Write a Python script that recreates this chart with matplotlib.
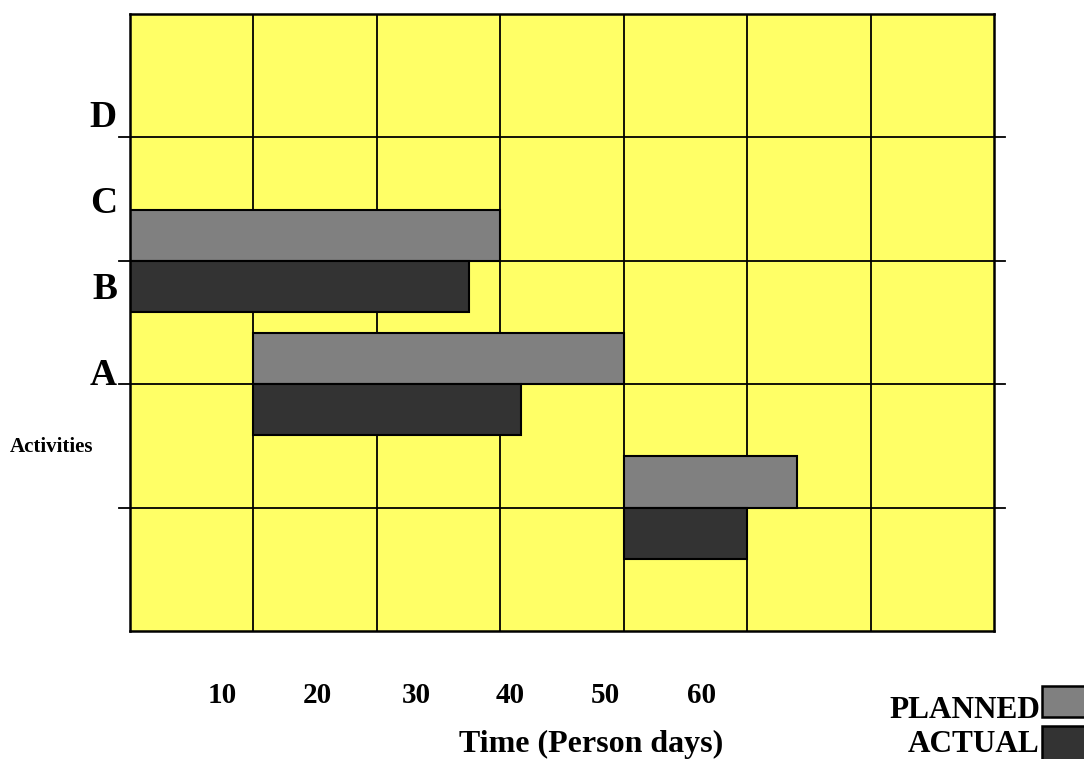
import matplotlib.pyplot as plt
from matplotlib.patches import Rectangle

# Gantt data (time in person days, grid column = 10 days)
row_lines = [3, 2, 1]               # grid line each planned/actual pair sits on
planned_start = [0, 10, 40]
planned_end = [30, 40, 54]
actual_start = [0, 10, 40]
actual_end = [27.5, 31.7, 50]

tick_pos = [7.5, 15.2, 23.2, 30.8, 38.5, 46.3]
tick_labels = ['10', '20', '30', '40', '50', '60']
row_labels = ['D', 'C', 'B', 'A']
row_label_y = [127, 213, 299, 385]   # baseline, in pixels from top

yellow = '#FFFF66'
planned_color = '#808080'
actual_color = '#333333'
bar_h = 0.415

plt.rcParams['font.family'] = 'Liberation Serif'
plt.rcParams['font.weight'] = 'bold'

W, H = 1084, 759
fig = plt.figure(figsize=(W / 100, H / 100), dpi=100)
ax = fig.add_axes([130 / W, 1 - 631 / H, 864 / W, 617 / H])
ax.set_facecolor(yellow)
ax.set_xlim(0, 70)
ax.set_ylim(0, 5)

# grid
for x in range(10, 70, 10):
    ax.axvline(x, color='black', lw=1.3, zorder=1)
for y in [1, 2, 3, 4]:
    ax.plot([-0.9, 0.9 + 70], [y, y], color='black', lw=1.3, clip_on=False, zorder=1)

# bars
for y0, ps, pe, as_, ae in zip(row_lines, planned_start, planned_end, actual_start, actual_end):
    ax.barh(y0 + bar_h / 2, pe - ps, left=ps, height=bar_h, color=planned_color,
            edgecolor='black', lw=1.5, zorder=3)
    ax.barh(y0 - bar_h / 2, ae - as_, left=as_, height=bar_h, color=actual_color,
            edgecolor='black', lw=1.5, zorder=3)

for s in ax.spines.values():
    s.set_linewidth(1.8)
    s.set_zorder(4)

ax.set_yticks([])
ax.set_xticks(tick_pos)
ax.set_xticklabels(tick_labels, fontsize=21, fontweight='bold')
ax.tick_params(axis='x', length=0, pad=37)

# row labels
for lab, yp in zip(row_labels, row_label_y):
    fig.text(117 / W, 1 - yp / H, lab, ha='right', va='baseline',
             fontsize=27, fontweight='bold')
fig.text(10 / W, 1 - 447 / H, 'Activities', ha='left', va='center',
         fontsize=15, fontweight='bold')

fig.text(591 / W, 1 - 744 / H, 'Time (Person days)', ha='center', va='center',
         fontsize=23, fontweight='bold')

# legend
fig.text(1040 / W, 1 - 711 / H, 'PLANNED', ha='right', va='center',
         fontsize=22.5, fontweight='bold')
fig.text(1040 / W, 1 - 744 / H, 'ACTUAL', ha='right', va='center',
         fontsize=22.5, fontweight='bold')
fig.patches.append(Rectangle((1042 / W, 1 - 717 / H), 60 / W, 31 / H,
                             transform=fig.transFigure, facecolor=planned_color,
                             edgecolor='black', lw=1.8))
fig.patches.append(Rectangle((1042 / W, 1 - 762 / H), 60 / W, 36 / H,
                             transform=fig.transFigure, facecolor=actual_color,
                             edgecolor='black', lw=1.8))

fig.savefig('out.png', dpi=100)
